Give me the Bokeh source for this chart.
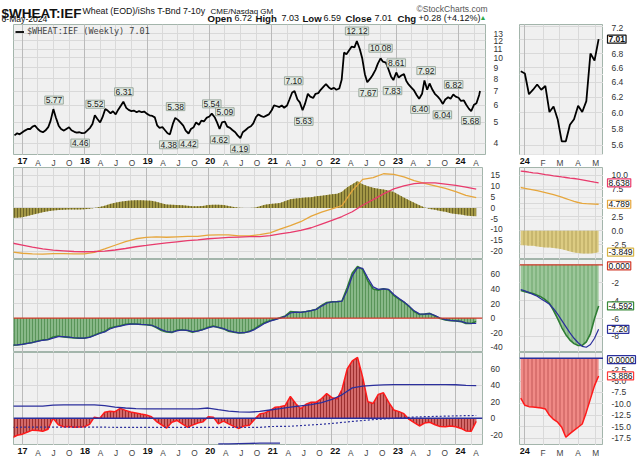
import numpy as np
import pandas as pd
from bokeh.plotting import figure
from bokeh.models import (Range1d, FixedTicker, Label, Grid, Span, PrintfTickFormatter,
                          CustomJSTickFormatter, Legend, LegendItem, LinearAxis, LogAxis, LogScale)
from bokeh.layouts import column, row
from bokeh.embed import file_html
from bokeh.resources import INLINE

# ---------------- data ----------------
price_dates = list(pd.date_range("2016-11-15", "2024-05-01", freq="SMS")) + [pd.Timestamp("2024-05-06")]
price = [
    4.35, 4.45, 4.40,
    4.50, 4.58, 4.66, 4.66, 4.78, 4.83, 4.66, 4.55, 4.50, 4.58, 4.75, 5.10,
    5.77, 5.29, 4.83, 4.66, 4.58, 4.66, 4.75, 4.60, 4.52, 4.48, 4.50, 4.46,
    4.47, 4.58, 4.72, 4.92, 5.40, 5.20, 5.00, 5.29, 5.78, 5.68, 5.52, 5.64,
    5.45, 5.72, 6.00, 6.25, 5.85, 5.72, 5.65, 5.68, 5.58, 5.65, 5.58, 5.62,
    5.48, 5.40, 5.36, 5.28, 4.85, 4.72, 4.75, 4.61, 4.45, 4.40, 4.92, 5.25,
    5.14, 5.00, 4.83, 4.58, 4.44, 4.66, 4.75, 5.00, 4.88, 5.10, 5.06, 5.25,
    5.33, 5.50, 5.29, 5.00, 4.66, 5.00, 5.05, 4.78, 4.72, 4.61, 4.50, 4.35,
    4.22, 4.50, 4.61, 4.72, 4.80, 4.95, 5.30, 5.45, 5.35, 5.30, 5.38, 5.45,
    5.70, 6.00, 5.95, 5.90, 6.00, 5.85, 6.00, 6.40, 6.90, 7.00, 6.40, 6.20,
    5.70, 6.10, 6.80, 6.60, 6.50, 6.80, 6.85, 7.10, 7.35, 7.55, 7.30, 7.15,
    7.25, 7.10, 7.20, 7.90, 10.60, 10.40, 10.90, 11.30, 11.20, 12.00, 11.00, 10.00,
    8.40, 7.70, 8.00, 8.30, 8.80, 9.40, 9.95, 9.60, 9.50, 8.90, 8.20, 7.88,
    8.55, 8.10, 8.30, 8.40, 7.80, 7.50, 7.25, 7.05, 6.70, 6.45, 6.80, 7.85,
    7.10, 7.60, 7.10, 6.80, 6.60, 6.40, 6.10, 6.40, 6.55, 6.45, 6.75, 6.60,
    6.52, 6.30, 6.33, 6.05, 5.80, 5.65, 6.05, 6.15, 6.72, 7.01,
]

# weekly zoom (right-hand panels)
mini_dates = pd.date_range("2023-12-25", "2024-05-06", freq="7D")
mini_price = [6.55, 6.52, 6.24, 6.30, 6.37, 6.30, 6.35, 6.01, 6.08, 5.92,
              5.65, 5.65, 5.85, 5.92, 6.09, 6.01, 6.15, 6.80, 6.70, 7.01]
mini_hist2 = [-2.6, -2.6, -2.7, -2.7, -2.8, -2.9, -3.0, -3.0, -3.1, -3.2,
              -3.3, -3.5, -3.7, -3.9, -4.0, -4.1, -4.1, -4.1, -4.0, -3.849]
mini_orange2 = [7.80, 7.66, 7.52, 7.38, 7.22, 7.05, 6.88, 6.70, 6.50, 6.30,
                6.05, 5.80, 5.55, 5.30, 5.10, 4.95, 4.88, 4.84, 4.80, 4.789]
mini_pink2 = [10.75, 10.68, 10.55, 10.45, 10.38, 10.25, 10.12, 10.02, 9.90, 9.82,
              9.70, 9.60, 9.50, 9.42, 9.30, 9.18, 9.05, 8.90, 8.76, 8.638]
mini_green3 = [-2.86, -3.00, -3.10, -3.20, -3.40, -3.60, -3.90, -4.30, -5.10, -6.00,
               -7.00, -7.80, -8.40, -8.80, -9.00, -9.00, -8.60, -7.70, -6.00, -4.592]
mini_blue3 = [-2.75, -2.90, -3.10, -3.30, -3.50, -3.80, -4.10, -4.40, -4.90, -5.50,
              -6.20, -6.90, -7.60, -8.20, -8.70, -9.10, -9.20, -8.90, -8.20, -7.20]
mini_red4 = [-8.75, -10.3, -10.6, -10.7, -10.8, -10.9, -11.1, -12.5, -13.4, -14.0,
             -15.1, -17.3, -16.5, -15.8, -15.1, -14.4, -11.8, -8.9, -6.0, -3.886]

# monthly indicator values
month_dates = pd.date_range("2016-11-01", "2024-05-01", freq="MS")
hist2 = [
    -4.6, -4.6,
    -4.3, -3.8, -3.2, -2.6, -2.0, -1.6, -1.2, -1.0, -0.9, -0.8, -0.8, -0.8,
    -0.6, -0.4, -0.1, 0.4, 1.0, 1.8, 2.4, 2.8, 3.2, 3.4, 3.5, 3.5,
    3.4, 3.3, 2.8, 2.2, 1.6, 1.4, 1.3, 1.2, 1.0, 0.8, 0.8, 0.9,
    1.3, 1.5, 1.4, 1.3, 0.9, 0.4, 0.1, 0.0, 0.0, 0.1, 0.8, 1.5,
    1.85, 2.0, 2.3, 3.2, 4.0, 4.4, 4.6, 4.8, 4.9, 5.4, 5.6, 6.0,
    6.3, 6.6, 7.5, 9.6, 11.0, 12.5, 11.0, 10.0, 9.3, 8.9, 8.5, 8.0,
    7.3, 6.0, 4.8, 3.5, 2.4, 1.2, 0.2, -0.5, -0.9, -1.4, -1.8, -2.5,
    -2.8, -3.1, -3.5, -3.8, -3.9,
]
green3 = [
    -37.4, -37.0,
    -36.0, -34.5, -33.5, -31.5, -30.0, -29.5, -26.0, -24.5, -25.9, -26.5, -27.3, -27.5,
    -27.6, -26.0, -23.5, -20.5, -18.5, -13.5, -12.0, -10.5, -8.5, -7.8, -8.2, -8.8,
    -9.1, -10.0, -13.0, -17.0, -19.0, -19.8, -16.5, -16.0, -17.0, -19.5, -17.5, -15.5,
    -12.5, -11.0, -13.0, -14.8, -18.0, -19.5, -20.5, -20.0, -18.0, -15.0, -10.0, -6.0,
    -3.5, -1.5, 0.5, 3.0, 9.0, 8.5, 8.0, 9.0, 10.5, 12.3, 17.5, 21.5,
    22.5, 22.7, 23.5, 42.0, 62.0, 71.0, 67.0, 51.0, 40.0, 38.5, 40.5, 39.0,
    31.0, 26.0, 22.0, 16.0, 9.0, 5.0, 5.5, 6.5, 3.0, -0.5, -2.5, -3.5,
    -4.0, -4.8, -7.5, -7.5, -4.6,
]
blue3 = [
    -37.0, -36.8,
    -36.0, -34.8, -33.6, -32.0, -30.5, -29.5, -27.5, -25.5, -25.6, -26.2, -27.0, -27.4,
    -27.5, -26.5, -24.0, -21.2, -19.0, -15.0, -12.5, -11.0, -9.2, -8.2, -8.2, -8.7,
    -9.1, -9.8, -12.2, -15.8, -18.4, -19.4, -17.6, -16.4, -16.8, -18.6, -17.8, -16.0,
    -13.4, -11.6, -12.6, -14.4, -17.2, -19.0, -20.2, -20.1, -18.6, -15.8, -11.4, -7.2,
    -4.2, -2.0, 0.0, 2.4, 7.0, 8.2, 8.0, 8.8, 10.2, 12.0, 16.5, 20.5,
    22.2, 22.6, 23.2, 38.0, 58.0, 69.5, 68.5, 55.0, 43.0, 39.5, 40.2, 39.5,
    32.5, 27.0, 22.5, 16.5, 10.0, 5.8, 5.5, 6.2, 3.6, 0.2, -2.0, -3.2,
    -3.8, -4.5, -6.6, -7.4, -7.2,
]
red4 = [
    -24.0, -20.8,
    -19.5, -16.8, -14.6, -15.1, -16.0, -13.5, 0.0, -8.0, -10.5, -10.2, -11.0, -10.6,
    -10.5, -7.5, 1.2, -0.2, 7.3, 8.5, 8.0, 12.0, 9.5, 7.5, 6.3, 5.0,
    4.0, 1.8, -3.8, -8.0, -12.0, -5.0, -2.8, -6.9, -11.0, -8.5, -5.9, -4.5,
    1.8, 1.2, -6.9, -3.5, -7.0, -10.0, -12.5, -9.5, -8.5, -1.5, 5.0, 6.5,
    9.3, 13.4, 14.0, 15.5, 26.5, 18.0, 11.5, 17.0, 19.5, 19.5, 24.0, 30.0,
    25.0, 23.6, 35.0, 60.0, 70.0, 74.0, 50.0, 20.0, 18.0, 29.0, 31.0, 19.5,
    10.0, 8.0, 5.5, -1.5, -5.5, -9.5, -6.0, -4.9, -8.0, -10.2, -10.5, -9.5,
    -10.5, -12.5, -15.5, -16.0, -3.9,
]

# every-other-month values of the slow lines
bim_dates = pd.date_range("2016-11-01", "2024-05-01", freq="2MS")
orange2 = [
    -20.4,
    -21.0, -21.3, -21.4, -21.2, -21.2, -21.3,
    -21.3, -20.6, -19.0, -17.3, -15.6, -14.3,
    -13.7, -13.4, -13.6, -13.4, -13.2, -13.2,
    -12.6, -12.5, -12.5, -13.0, -13.0, -12.4,
    -11.6, -9.8, -8.2, -6.4, -3.8, -2.0,
    -0.5, 1.0, 8.0, 13.2, 14.0, 15.8,
    15.5, 14.4, 12.6, 11.4, 10.2, 9.0,
    7.5, 5.8, 4.789,
]
pink2 = [
    -16.3,
    -17.2, -18.2, -19.0, -19.6, -19.9, -20.2,
    -20.3, -20.2, -20.0, -19.5, -18.8, -18.0,
    -17.4, -16.8, -16.2, -15.7, -15.2, -14.8,
    -14.3, -14.0, -13.7, -13.5, -13.3, -13.3,
    -12.8, -12.0, -11.3, -10.4, -9.2, -7.5,
    -5.8, -4.0, -1.8, 1.2, 3.8, 6.5,
    8.8, 10.2, 11.2, 11.6, 11.6, 11.0,
    10.4, 9.6, 8.638,
]
upper4 = [
    14.6,
    14.6, 14.6, 14.7, 16.0, 16.3, 16.3,
    16.3, 16.2, 15.3, 13.6, 12.4, 11.6,
    11.4, 11.4, 11.4, 11.4, 11.4, 11.4,
    12.4, 10.4, 8.6, 7.6, 7.3, 8.2,
    10.0, 11.6, 13.4, 15.0, 16.5, 19.0,
    22.8, 28.5, 37.0, 39.2, 40.0, 40.6,
    40.9, 41.0, 41.0, 41.0, 41.0, 41.0,
    40.8, 40.0, 39.8,
]
dotted4 = [
    -11.2,
    -11.0, -11.0, -11.0, -10.9, -11.0, -11.0,
    -11.0, -11.0, -11.0, -11.1, -11.1, -11.1,
    -11.1, -11.1, -11.2, -11.2, -11.2, -11.2,
    -11.2, -11.2, -11.2, -11.2, -11.2, -11.2,
    -10.2, -10.0, -9.8, -9.0, -8.2, -7.4,
    -6.4, -5.2, -4.0, -2.8, -1.8, -1.0,
    -0.2, 0.6, 1.4, 1.8, 2.2, 2.5,
    2.8, 3.1, 3.3,
]
lower4_dates = pd.date_range("2020-03-01", "2021-03-01", freq="2MS")
lower4 = [-31.3, -31.2, -30.9, -30.7, -30.5, -30.4, -30.3]

# annotated highs / lows
lab_dates = ["2017-07-05", "2017-12-05", "2018-03-03", "2018-08-18", "2019-06-17", "2019-05-08",
             "2019-09-01", "2020-01-15", "2020-04-01", "2020-03-02", "2020-06-28", "2021-05-10",
             "2021-07-08", "2022-05-16", "2022-07-20", "2022-10-01", "2023-01-01", "2022-12-10",
             "2023-06-25", "2023-05-20", "2023-09-28", "2023-12-03", "2024-03-13"]
lab_vals = [5.77, 4.46, 5.52, 6.31, 5.38, 4.38, 4.42, 5.54, 5.09, 4.62, 4.19, 7.10,
            5.63, 12.12, 7.67, 10.08, 8.61, 7.83, 7.92, 6.40, 6.04, 6.82, 5.68]
lab_high = [1, 0, 1, 1, 1, 0, 0, 1, 1, 0, 0, 1, 0, 1, 0, 1, 1, 0, 1, 0, 0, 1, 0]

# ---------------- helpers ----------------
def dec(dates):
    d = pd.DatetimeIndex(pd.to_datetime(list(dates)))
    n = np.where(d.is_leap_year, 366.0, 365.0)
    return np.asarray(d.year, dtype=float) + (np.asarray(d.dayofyear, dtype=float) - 1.0) / n

FONT = "Liberation Sans"
BG = "#f0f0f0"
GRID = "#d9d9d9"
GRID_Y = "#bababa"
OUTLINE = "#a3b5ab"
BLUE = "#2b2f9c"

XR_MAIN = Range1d(2016.856, 2024.432)
XR_MINI = Range1d(2023.975, 2024.367)
q_ticks = list(dec(pd.date_range("2017-01-01", "2024-04-01", freq="QS")))
yr_ticks = list(dec(pd.date_range("2017-01-01", "2024-01-01", freq="YS")))
qm_ticks = [t for t in q_ticks if abs(t - round(t)) > 1e-6]
m_ticks = list(dec(pd.date_range("2024-01-01", "2024-05-01", freq="MS")))

Q_CODE = "const f = tick - Math.floor(tick + 1e-6); const q = Math.round(f * 4); return ['', 'A', 'J', 'O'][q] || '';"
M_CODE = "const f = tick - Math.floor(tick + 1e-6); const m = Math.round(f * 12); return ['', 'F', 'M', 'A', 'M'][m] || '';"
Y_CODE = "const y = Math.round(tick) % 100; return (y < 10 ? '0' : '') + y;"


def style_axis(ax, size="8.5px", color="#333333", bold=False, standoff=2):
    ax.major_tick_line_color = None
    ax.minor_tick_line_color = None
    ax.axis_line_color = None
    ax.major_label_standoff = standoff
    ax.major_label_text_font = FONT
    ax.major_label_text_font_size = size
    ax.major_label_text_color = color
    ax.major_label_text_font_style = "bold" if bold else "normal"


def base(p):
    p.background_fill_color = BG
    p.border_fill_color = "white"
    p.outline_line_color = OUTLINE
    for g in p.xgrid:
        g.visible = False


def make_main(height, yr, yticks, yfmt, log=False):
    p = figure(width=505, height=height, x_range=XR_MAIN, y_range=Range1d(*yr),
               y_axis_type="log" if log else "linear",
               x_axis_location=None, y_axis_location="right",
               toolbar_location=None, output_backend="svg",
               min_border_left=13, min_border_right=18, min_border_top=0, min_border_bottom=0)
    base(p)
    yt = FixedTicker(ticks=list(yticks))
    ax = p.yaxis[0]
    ax.ticker = yt
    ax.formatter = PrintfTickFormatter(format=yfmt)
    style_axis(ax)
    for g in p.ygrid:
        g.ticker = yt
        g.grid_line_color = GRID
    p.add_layout(Grid(dimension=0, ticker=FixedTicker(ticks=q_ticks), grid_line_color=GRID))
    p.add_layout(Grid(dimension=0, ticker=FixedTicker(ticks=yr_ticks), grid_line_color=GRID_Y))
    return p


def make_mini(height, yrange, yticks, log=False):
    p = figure(width=98, height=height, x_range=XR_MINI, y_range=yrange,
               y_axis_type="log" if log else "linear",
               x_axis_location=None, y_axis_location=None,
               toolbar_location=None, output_backend="svg",
               min_border_left=14, min_border_right=0, min_border_top=0, min_border_bottom=0)
    if log:
        p.y_scale = LogScale()
    base(p)
    p.add_layout(Grid(dimension=1, ticker=FixedTicker(ticks=list(yticks)), grid_line_color=GRID))
    p.add_layout(Grid(dimension=0, ticker=FixedTicker(ticks=m_ticks), grid_line_color=GRID))
    p.add_layout(Grid(dimension=0, ticker=FixedTicker(ticks=[m_ticks[0]]), grid_line_color=GRID_Y))
    return p


def make_side(height, yrange, yticks, yfmt, log=False):
    t = figure(width=37, height=height, x_range=Range1d(0, 37), y_range=yrange,
               x_axis_location=None, y_axis_location=None, toolbar_location=None,
               output_backend="svg", min_border_left=0, min_border_right=0,
               min_border_top=0, min_border_bottom=0)
    if log:
        t.y_scale = LogScale()
    t.outline_line_color = None
    t.background_fill_color = "white"
    t.border_fill_color = "white"
    for g in t.grid:
        g.visible = False
    Axis = LogAxis if log else LinearAxis
    ax = Axis(ticker=FixedTicker(ticks=list(yticks)), formatter=PrintfTickFormatter(format=yfmt),
              fixed_location=0)
    style_axis(ax)
    t.add_layout(ax, "right")
    return t


def make_strip(main):
    # the time-axis strip under a panel: month letters + bold year numbers
    if main:
        p = figure(width=505, height=12, x_range=XR_MAIN, y_range=Range1d(0, 1),
                   x_axis_location=None, y_axis_location=None, toolbar_location=None,
                   output_backend="svg", min_border_left=13, min_border_right=18,
                   min_border_top=0, min_border_bottom=0)
        minor, major, code = qm_ticks, yr_ticks, Q_CODE
    else:
        p = figure(width=135, height=12, x_range=XR_MINI, y_range=Range1d(0, 1),
                   x_axis_location=None, y_axis_location=None, toolbar_location=None,
                   output_backend="svg", min_border_left=14, min_border_right=37,
                   min_border_top=0, min_border_bottom=0)
        minor, major, code = m_ticks[1:], [m_ticks[0]], M_CODE
    p.outline_line_color = None
    p.background_fill_color = "white"
    p.border_fill_color = "white"
    for g in p.grid:
        g.visible = False
    xa = LinearAxis(ticker=FixedTicker(ticks=minor), formatter=CustomJSTickFormatter(code=code),
                    fixed_location=1.5)
    style_axis(xa, size="8.3px", color="#444444", standoff=2)
    p.add_layout(xa, "below")
    ya = LinearAxis(ticker=FixedTicker(ticks=major), formatter=CustomJSTickFormatter(code=Y_CODE),
                    fixed_location=1.5)
    style_axis(ya, size="9px", color="#111111", bold=True, standoff=2)
    p.add_layout(ya, "below")
    return p


def tag(t, y, text, color, bold=False, dy=0):
    t.add_layout(Label(x=0, y=y, text=text, x_offset=4, y_offset=dy, text_align="left",
                       text_baseline="middle", text_font=FONT, text_font_size="8.5px",
                       text_font_style="bold" if bold else "normal", text_color="#111111",
                       background_fill_color="white", border_line_color=color,
                       border_line_width=1.2, padding=1))


xp = dec(price_dates)
xw = dec(mini_dates)
xm = dec(month_dates)
xb = dec(bim_dates)

# ---------------- header ----------------
hdr = figure(width=640, height=24, x_range=Range1d(0, 640), y_range=Range1d(24, 0),
             x_axis_location=None, y_axis_location=None, toolbar_location=None,
             output_backend="svg", min_border=0)
hdr.outline_line_color = None
hdr.background_fill_color = "white"
hdr.border_fill_color = "white"
for g in hdr.grid:
    g.visible = False


def htext(x, y, t, size, bold=False, color="#111111", align="left"):
    hdr.add_layout(Label(x=x, y=y, text=t, text_font=FONT, text_font_size=size,
                         text_font_style="bold" if bold else "normal", text_color=color,
                         text_align=align, text_baseline="alphabetic"))


htext(1, 13, "$WHEAT:IEF", "13.5px", bold=True)
htext(82, 10.5, "Wheat (EOD)/iShs T-Bnd 7-10y", "8.8px")
htext(210, 10.5, "CME/Nasdaq GM", "8px")
htext(487, 8.5, "\u00a9StockCharts.com", "8.5px", color="#555555", align="right")
htext(1, 18, "6-May-2024", "8.6px")
for x, t, b in [(207, "Open", True), (234, "6.72", False), (255, "High", True), (281, "7.03", False),
                (302, "Low", True), (323, "6.59", False), (345, "Close", True), (374, "7.01", False),
                (397, "Chg", True), (418, "+0.28 (+4.12%)", False)]:
    htext(x, 17.5, t, "9.6px" if b else "9px", bold=b)
htext(479, 16.5, "\u25b2", "7px", color="#2ea84a")

# ---------------- row 1: price ----------------
m1 = make_main(131, (3.505, 14.32), [4, 5, 6, 7, 8, 9, 10, 11, 12, 13], "%.0f", log=True)
r = m1.line(xp, price, line_color="black", line_width=1.8)
m1.add_layout(Legend(items=[LegendItem(label="$WHEAT:IEF (Weekly) %.2f" % price[-1], renderers=[r])],
                     location="top_left", background_fill_alpha=0, border_line_alpha=0,
                     label_text_font="DejaVu Sans Mono", label_text_font_size="8.5px",
                     glyph_width=9, glyph_height=7, label_standoff=3, padding=0, margin=2,
                     label_height=9))
for d, v, h in zip(lab_dates, lab_vals, lab_high):
    m1.add_layout(Label(x=dec([d])[0], y=v, text="%.2f" % v, text_align="center",
                        text_baseline="bottom" if h else "top", y_offset=5 if h else -6,
                        text_font=FONT, text_font_size="8.5px", text_color="#222222",
                        background_fill_color="#e2eae3", border_line_color="#9aa89d",
                        border_line_width=1, padding=1))

yr1 = Range1d(5.483, 7.23)
s1 = make_mini(131, yr1, [5.6, 5.8, 6.0, 6.2, 6.4, 6.6, 6.8, 7.0, 7.2], log=True)
s1.line(xw, mini_price, line_color="black", line_width=1.8)
t1 = make_side(131, yr1, [5.6, 5.8, 6.0, 6.2, 6.4, 6.6, 6.8, 7.2], "%.1f", log=True)
tag(t1, mini_price[-1], "%.2f" % mini_price[-1], "#111111", bold=True)

# ---------------- row 2 ----------------
m2 = make_main(92, (-23.9, 18.7), [-20, -15, -10, -5, 0, 5, 10, 15], "%d")
m2.varea(x=xm, y1=0, y2=hist2, fill_color="#a39846", hatch_pattern="vertical_line",
         hatch_color="#5f5822", hatch_scale=3, hatch_weight=0.8)
m2.line(xb, orange2, line_color="#e6a63c", line_width=1.3)
m2.line(xb, pink2, line_color="#e83a6c", line_width=1.3)

yr2 = Range1d(-5.16, 11.4)
s2 = make_mini(92, yr2, [-2.5, 0, 2.5, 5, 7.5, 10])
s2.varea(x=xw, y1=0, y2=mini_hist2, fill_color="#dccb82", hatch_pattern="vertical_line",
         hatch_color="#a89550", hatch_scale=4, hatch_weight=0.8)
s2.line(xw, mini_pink2, line_color="#e83a6c", line_width=1.3)
s2.line(xw, mini_orange2, line_color="#e6a63c", line_width=1.3)
t2 = make_side(92, yr2, [-2.5, 0, 2.5, 5, 7.5, 10], "%.1f")
tag(t2, mini_pink2[-1], "%.3f" % mini_pink2[-1], "#e83a6c")
tag(t2, mini_orange2[-1], "%.3f" % mini_orange2[-1], "#e6a63c")
tag(t2, mini_hist2[-1], "%.3f" % mini_hist2[-1], "#d8b445")

# ---------------- row 3 ----------------
m3 = make_main(93, (-47.3, 80.6), [-40, -20, 0, 20, 40, 60], "%d")
m3.varea(x=xm, y1=0, y2=green3, fill_color="#88b888", hatch_pattern="vertical_line",
         hatch_color="#4d8a4d", hatch_scale=3, hatch_weight=0.8)
m3.line(xm, green3, line_color="#2f7d34", line_width=1.6)
m3.line(xm, blue3, line_color=BLUE, line_width=1.2)
m3.add_layout(Span(location=0, dimension="width", line_color="#d23a2a", line_width=1.2))

yr3 = Range1d(-9.79, 0.6)
s3 = make_mini(93, yr3, [-8, -6, -4, -2, 0])
s3.varea(x=xw, y1=0, y2=mini_green3, fill_color="#9cc79a", hatch_pattern="vertical_line",
         hatch_color="#5f9a5f", hatch_scale=4, hatch_weight=0.8)
s3.line(xw, mini_green3, line_color="#2f7d34", line_width=1.6)
s3.line(xw, mini_blue3, line_color=BLUE, line_width=1.2)
s3.add_layout(Span(location=0, dimension="width", line_color="#d23a2a", line_width=1.2))
t3 = make_side(93, yr3, [-8, -6, -4, -2], "%d")
tag(t3, 0, "0.000", "#d23a2a", dy=-1)
tag(t3, mini_green3[-1], "%.3f" % mini_green3[-1], "#3a8a3a")
tag(t3, mini_blue3[-1], "%.2f" % mini_blue3[-1], BLUE)

# ---------------- row 4 ----------------
m4 = make_main(93, (-33.3, 80.1), [-20, 0, 20, 40, 60], "%d")
m4.varea(x=xm, y1=0, y2=red4, fill_color="#d46a6a", hatch_pattern="vertical_line",
         hatch_color="#8e2020", hatch_scale=3, hatch_weight=0.8)
m4.line(xm, red4, line_color="#ff1a1a", line_width=1.5)
m4.line(xb, upper4, line_color=BLUE, line_width=1.3)
m4.line(xb, dotted4, line_color=BLUE, line_width=1.2, line_dash="2 2")
m4.line(dec(lower4_dates), lower4, line_color=BLUE, line_width=1.3)
m4.add_layout(Span(location=0, dimension="width", line_color=BLUE, line_width=1.5))

yr4 = Range1d(-19.1, 1.25)
s4 = make_mini(93, yr4, [-17.5, -15, -12.5, -10, -7.5, -5, -2.5, 0])
s4.varea(x=xw, y1=0, y2=mini_red4, fill_color="#f08a86", hatch_pattern="vertical_line",
         hatch_color="#b84a4a", hatch_scale=4, hatch_weight=0.8)
s4.line(xw, mini_red4, line_color="#ff1a1a", line_width=1.5)
s4.add_layout(Span(location=0, dimension="width", line_color=BLUE, line_width=1.5))
t4 = make_side(93, yr4, [-17.5, -15, -12.5, -10, -7.5, -5, -2.5], "%.1f")
tag(t4, 0, "0.0000", BLUE, dy=-1.5)
tag(t4, mini_red4[-1], "%.3f" % mini_red4[-1], "#ff3a3a")

layout = column(hdr,
                row(m1, s1, t1), row(make_strip(True), make_strip(False)),
                row(m2, s2, t2), row(m3, s3, t3), row(m4, s4, t4),
                row(make_strip(True), make_strip(False)))
open("out.html", "w").write(file_html(layout, INLINE))
